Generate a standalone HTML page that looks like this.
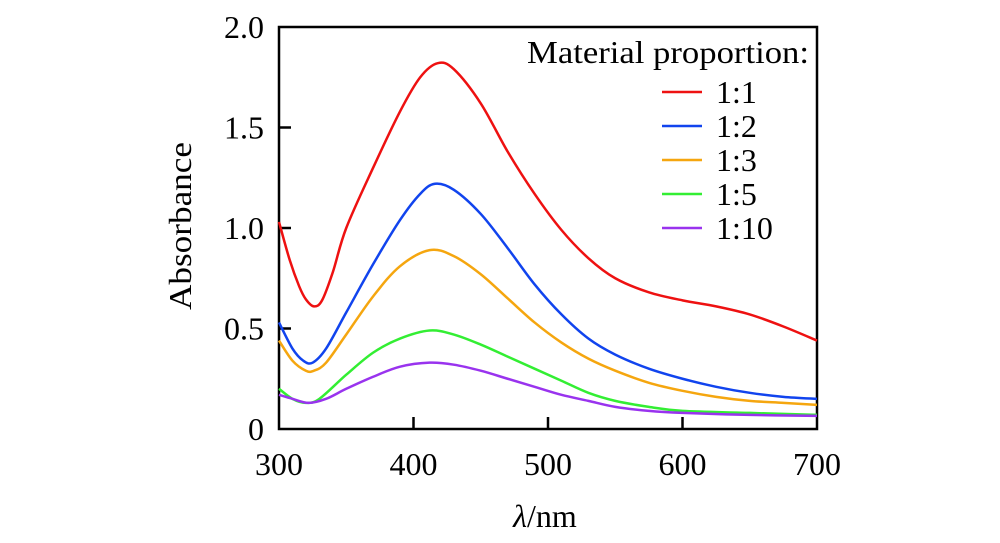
<!DOCTYPE html>
<html><head><meta charset="utf-8"><style>
html,body{margin:0;padding:0;background:#fff}
svg{display:block;font-family:"Liberation Serif",serif}
</style></head><body>
<svg id="chart" width="1000" height="543" viewBox="0 0 1000 543">
<rect x="279" y="27" width="538" height="402" fill="none" stroke="#000" stroke-width="2.5"/>
<g id="ticks"></g>
<g id="series"></g>
<text x="107" y="226" font-size="32" textLength="168" lengthAdjust="spacingAndGlyphs" transform="rotate(-90 191 226)">Absorbance</text>
<text x="545" y="527" font-size="32" text-anchor="middle"><tspan font-style="italic">λ</tspan>/nm</text>
<g id="legend">
<text x="527" y="63" font-size="32" textLength="282" lengthAdjust="spacingAndGlyphs">Material proportion:</text>
</g>
</svg>
<script>
const xTicks=[300,400,500,600,700];
const yTicks=[0,0.5,1.0,1.5,2.0];
const yTickLabels=["0","0.5","1.0","1.5","2.0"];
const labels=["1:1","1:2","1:3","1:5","1:10"];
const colors=["#ee1111","#1144ee","#f5a60f","#33ee33","#9933ee"];
const wl1=[300,308,315,320,326,332,340,350,370,390,405,418,430,450,470,490,510,530,550,575,600,625,650,675,700];
const s1=[1.03,0.84,0.71,0.645,0.61,0.64,0.78,1.0,1.3,1.58,1.75,1.82,1.79,1.62,1.38,1.17,0.99,0.85,0.75,0.68,0.64,0.61,0.57,0.51,0.44];
const wl2=[300,310,318,325,335,350,370,390,405,416,430,450,470,490,510,530,550,575,600,625,650,675,700];
const s2=[0.53,0.40,0.34,0.33,0.40,0.58,0.82,1.04,1.17,1.22,1.19,1.07,0.90,0.72,0.57,0.45,0.37,0.30,0.25,0.21,0.18,0.16,0.15];
const wl3=[300,310,320,326,335,350,370,390,412,430,450,470,490,510,530,550,575,600,625,650,675,700];
const s3=[0.44,0.34,0.29,0.29,0.33,0.47,0.66,0.81,0.89,0.86,0.77,0.65,0.53,0.43,0.35,0.29,0.23,0.19,0.16,0.14,0.13,0.12];
const wl5=[300,310,320,330,350,370,390,412,430,450,470,490,510,530,550,575,600,650,700];
const s5=[0.20,0.15,0.13,0.15,0.27,0.38,0.45,0.49,0.47,0.42,0.36,0.30,0.24,0.18,0.14,0.11,0.09,0.08,0.07];
const wl10=[300,310,322,335,350,370,390,412,430,450,470,490,510,530,550,575,600,650,700];
const s10=[0.17,0.15,0.13,0.15,0.20,0.26,0.31,0.33,0.32,0.29,0.25,0.21,0.17,0.14,0.11,0.09,0.08,0.07,0.065];
const X=v=>279+(v-300)*(538/400);
const Y=v=>429-v*201;
const NS="http://www.w3.org/2000/svg";
function mk(t,a){const e=document.createElementNS(NS,t);for(const k in a)e.setAttribute(k,a[k]);return e;}
const tg=document.getElementById('ticks');
xTicks.forEach((t,i)=>{
  if(i>0&&i<xTicks.length-1){const l=mk('line',{x1:X(t),x2:X(t),y1:429,y2:417,stroke:'#000','stroke-width':2.5});
  
  tg.appendChild(l);}
  const tx=mk('text',{x:X(t),y:475,'font-size':32,'text-anchor':'middle'});tx.textContent=t;
  
  tg.appendChild(tx);
});
yTicks.forEach((t,i)=>{
  if(i>0&&i<yTicks.length-1){const l=mk('line',{x1:279,x2:291,y1:Y(t),y2:Y(t),stroke:'#000','stroke-width':2.5});
  
  tg.appendChild(l);}
  const tx=mk('text',{x:264,y:Y(t)+11,'font-size':32,'text-anchor':'end'});tx.textContent=yTickLabels[i];
  
  tg.appendChild(tx);
});
function path(xs,ys){
  const p=xs.map((x,i)=>[X(x),Y(ys[i])]);
  let d=`M${p[0][0]},${p[0][1]}`;
  for(let i=0;i<p.length-1;i++){
    const p0=p[i-1]||p[i],p1=p[i],p2=p[i+1],p3=p[i+2]||p2;
    const c1=[p1[0]+(p2[0]-p0[0])/6,p1[1]+(p2[1]-p0[1])/6];
    const c2=[p2[0]-(p3[0]-p1[0])/6,p2[1]-(p3[1]-p1[1])/6];
    d+=` C${c1[0]},${c1[1]} ${c2[0]},${c2[1]} ${p2[0]},${p2[1]}`;
  }
  return d;
}
const sg=document.getElementById('series');
const data=[[wl1,s1],[wl2,s2],[wl3,s3],[wl5,s5],[wl10,s10]];
const lg=document.getElementById('legend');
data.forEach((d,i)=>{
  const p=mk('path',{d:path(d[0],d[1]),fill:'none',stroke:colors[i],'stroke-width':2.5});
  
  
  sg.appendChild(p);
  const ly=92+i*34;
  const l=mk('line',{x1:662,x2:702,y1:ly,y2:ly,stroke:colors[i],'stroke-width':2.5});
  
  
  lg.appendChild(l);
  const t=mk('text',{x:716,y:ly+11,'font-size':32});t.textContent=labels[i];
  
  
  lg.appendChild(t);
});
</script>
</body></html>
